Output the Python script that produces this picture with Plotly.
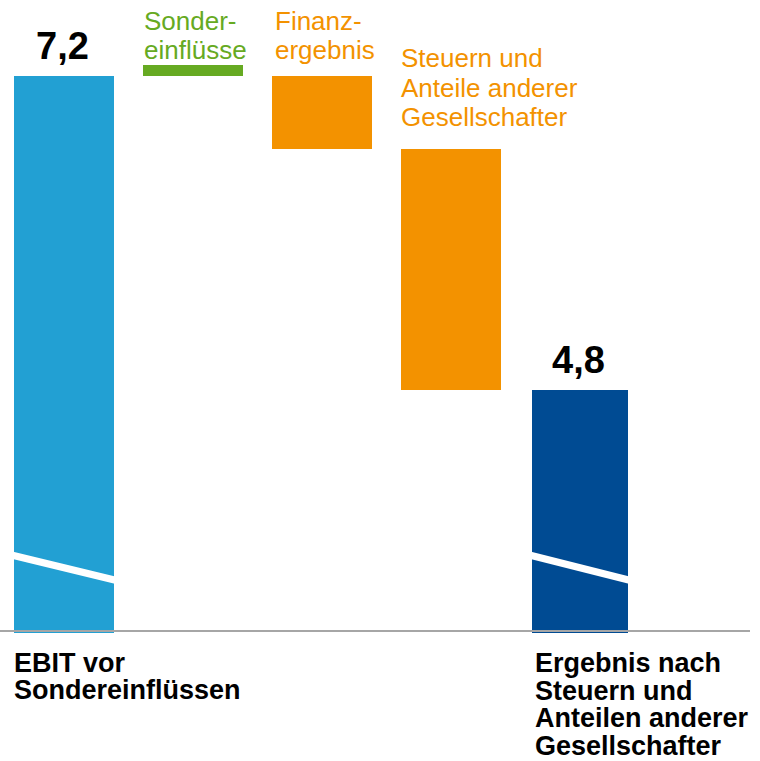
import plotly.graph_objects as go

# Werte (Mio. EUR)
categories = ["EBIT vor Sondereinflüssen", "Sondereinflüsse", "Finanzergebnis",
              "Steuern und Anteile anderer Gesellschafter",
              "Ergebnis nach Steuern und Anteilen anderer Gesellschafter"]
ebit = 7.2
sondereinfluesse = 0.08
finanzergebnis = -0.56
steuern = -1.84
ergebnis = 4.8

value_labels = ["7,2", "4,8"]

LIGHT_BLUE = '#22a0d3'
DARK_BLUE = '#004b93'
ORANGE = '#f39200'
GREEN = '#66aa22'
FONT = 'Arial, Liberation Sans, sans-serif'

W, H = 760, 761
PLOT_H = 633
BAR_W = 0.775

# Wasserfall: Sondereinflüsse sitzen als Marker auf dem EBIT
level = ebit
bases = [0, level, level]
heights = [ebit, sondereinfluesse, finanzergebnis]
level += finanzergebnis
bases.append(level)
heights.append(steuern)
bases.append(0)
heights.append(ergebnis)
colors = [LIGHT_BLUE, GREEN, ORANGE, ORANGE, DARK_BLUE]
widths = [BAR_W, BAR_W, BAR_W, BAR_W, 0.745]
xs = list(range(len(categories)))

fig = go.Figure()
fig.add_trace(go.Bar(x=xs, y=heights, base=bases, width=widths,
                     marker=dict(color=colors, line=dict(width=0)),
                     hovertext=categories, showlegend=False))

fig.update_layout(
    width=W, height=H,
    paper_bgcolor='white', plot_bgcolor='white',
    margin=dict(l=0, r=0, t=0, b=H - PLOT_H, pad=0),
    xaxis=dict(range=[-64 / 129, 696 / 129], visible=False),
    yaxis=dict(range=[2.94, 2.94 + PLOT_H / 130.8], visible=False),
    bargap=0,
)

# Achsenlinie
fig.add_shape(type='line', xref='paper', yref='paper', x0=0, x1=750 / W,
              y0=2 / PLOT_H, y1=2 / PLOT_H, line=dict(color='#a6a6a6', width=2))

# Achsenbruch
for i in (0, 4):
    fig.add_shape(type='line', xref='x', yref='paper',
                  x0=i - widths[i] / 2 - 0.02, x1=i + widths[i] / 2 + 0.02,
                  y0=(PLOT_H - 555) / PLOT_H, y1=(PLOT_H - 580.5) / PLOT_H,
                  line=dict(color='white', width=7))


def label(text, px_x, px_y, size, color, bold=False, xanchor='left'):
    if bold:
        text = '<b>' + text + '</b>'
    fig.add_annotation(text=text, xref='paper', yref='paper', x=px_x / W, y=1,
                       xanchor=xanchor, yanchor='middle', yshift=-px_y,
                       showarrow=False, font=dict(family=FONT, size=size, color=color))


label(value_labels[0], 62, 46, 38, 'black', True, 'center')
label(value_labels[1], 578, 360, 38, 'black', True, 'center')

for t, y in zip(["Sonder-", "einflüsse"], [21, 50]):
    label(t, 142, y, 26, GREEN)
for t, y in zip(["Finanz-", "ergebnis"], [21, 50]):
    label(t, 273, y, 26, ORANGE)
for t, y in zip(["Steuern und", "Anteile anderer", "Gesellschafter"], [57.5, 87.5, 116.5]):
    label(t, 399, y, 26, ORANGE)

for t, y in zip(["EBIT vor", "Sondereinflüssen"], [662.5, 689.5]):
    label(t, 12, y, 27, 'black', True)
for t, y in zip(["Ergebnis nach", "Steuern und", "Anteilen anderer", "Gesellschafter"],
                [662.5, 690.5, 717.5, 745.5]):
    label(t, 533, y, 27, 'black', True)

fig.write_html("out.html", config={'displayModeBar': False},
               post_script="document.body.style.margin = '0';")
